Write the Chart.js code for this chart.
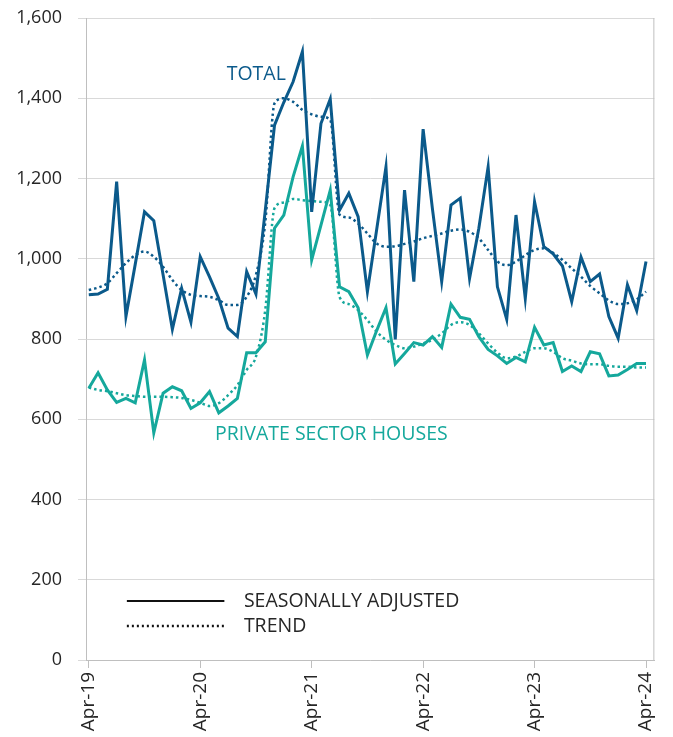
<!DOCTYPE html>
<html>
<head>
<meta charset="utf-8">
<script src="https://cdn.jsdelivr.net/npm/chart.js@4"></script>
<style>
  html, body { margin: 0; padding: 0; background: #fff; }
  #wrap { width: 673px; height: 737px; }
</style>
</head>
<body>
<div id="wrap"><canvas id="chart" width="673" height="737"></canvas></div>
<script>
/* Categories: monthly, Apr-19 .. Apr-24 */
const monthNames = ["Jan", "Feb", "Mar", "Apr", "May", "Jun", "Jul", "Aug", "Sep", "Oct", "Nov", "Dec"];
const months = [];
for (let y = 2019; y <= 2024; y++) {
  for (let m = 0; m < 12; m++) {
    if ((y === 2019 && m < 3) || (y === 2024 && m > 3)) continue;
    months.push(`${monthNames[m]}-${String(y).slice(2)}`);
  }
}

const yTicks = [0, 200, 400, 600, 800, 1000, 1200, 1400, 1600];
const xTickIndexes = [0, 12, 24, 36, 48, 60];

/* Series */
const totalSA = [
  910, 912, 924, 1192, 856, 986, 1117, 1095, 960, 824, 926, 842, 1005,
  955, 901, 827, 806, 968, 912, 1120, 1333, 1390, 1441, 1516, 1117,
  1337, 1398, 1121, 1163, 1105, 918, 1073, 1229, 799, 1171, 943, 1323,
  1125, 943, 1134, 1151, 951, 1076, 1229, 930, 849, 1109, 901, 1142,
  1030, 1012, 982, 893, 1004, 943, 962, 856, 802, 935, 871, 993
];
const totalTrend = [
  922, 928, 939, 964, 989, 1009, 1018, 1005, 980, 947, 922, 910, 907,
  905, 897, 885, 885, 905, 960, 1090, 1387, 1400, 1391, 1371, 1360,
  1354, 1346, 1110, 1103, 1088, 1063, 1038, 1030, 1031, 1037, 1043, 1051,
  1057, 1063, 1070, 1073, 1067, 1051, 1022, 993, 984, 993, 1009, 1022,
  1026, 1015, 997, 976, 955, 932, 914, 896, 887, 889, 899, 918
];
const privateSA = [
  677, 716, 673, 642, 652, 641, 748, 566, 665, 681, 671, 627, 641,
  669, 616, 633, 652, 766, 766, 793, 1076, 1109, 1204, 1281, 997,
  1084, 1171, 930, 918, 878, 760, 821, 878, 738, 764, 791, 785,
  806, 779, 887, 854, 849, 806, 774, 758, 739, 754, 743, 829,
  785, 791, 719, 733, 719, 768, 763, 708, 710, 724, 739, 739
];
const privateTrend = [
  679, 673, 670, 665, 660, 658, 656, 656, 656, 655, 653, 648, 641,
  633, 640, 660, 685, 723, 756, 872, 1126, 1140, 1149, 1146, 1144,
  1142, 1134, 905, 887, 872, 847, 818, 798, 785, 777, 781, 789,
  798, 814, 835, 842, 835, 814, 789, 766, 752, 756, 768, 777,
  777, 768, 752, 746, 739, 737, 737, 733, 731, 731, 729, 729
];

const blue = "#0b5a8b";
const teal = "#15a89c";
const gridColor = "#d9d9d9";
const axisColor = "#bfbfbf";
const textColor = "#262626";
const fontFamily = "'Open Sans', sans-serif";

function toPoints(values) {
  return values.map((v, i) => ({ x: i, y: v }));
}

/* Annotations, legend and right border */
const extras = {
  id: "extras",
  beforeDatasetsDraw(chart) {
    const { ctx, chartArea } = chart;
    ctx.save();
    ctx.strokeStyle = axisColor;
    ctx.lineWidth = 1;
    ctx.beginPath();
    ctx.moveTo(chartArea.right - 0.5, chartArea.top);
    ctx.lineTo(chartArea.right - 0.5, chartArea.bottom);
    ctx.stroke();
    ctx.restore();
  },
  afterDraw(chart) {
    const { ctx } = chart;
    const { x, y } = chart.scales;
    ctx.save();
    ctx.font = `19.5px ${fontFamily}`;
    ctx.textBaseline = "middle";
    ctx.textAlign = "left";

    ctx.fillStyle = blue;
    ctx.fillText("TOTAL", x.getPixelForValue(14.85), y.getPixelForValue(1460));
    ctx.fillStyle = teal;
    ctx.fillText("PRIVATE SECTOR HOUSES", x.getPixelForValue(13.6), y.getPixelForValue(562));

    // legend
    const lx0 = x.getPixelForValue(4.1);
    const lx1 = x.getPixelForValue(14.6);
    const tx = x.getPixelForValue(16.7);
    const y1 = Math.round(y.getPixelForValue(147));
    const y2 = Math.round(y.getPixelForValue(85));
    ctx.strokeStyle = "#111";
    ctx.lineWidth = 2;
    ctx.beginPath();
    ctx.moveTo(lx0, y1);
    ctx.lineTo(lx1, y1);
    ctx.stroke();
    ctx.setLineDash([2, 3]);
    ctx.lineWidth = 2.5;
    ctx.beginPath();
    ctx.moveTo(lx0, y2);
    ctx.lineTo(lx1, y2);
    ctx.stroke();
    ctx.setLineDash([]);
    ctx.fillStyle = textColor;
    ctx.fillText("SEASONALLY ADJUSTED", tx, y1);
    ctx.fillText("TREND", tx, y2);
    ctx.restore();
  }
};

new Chart(document.querySelector("#chart"), {
  type: "line",
  data: {
    datasets: [
      {
        label: "Total (seasonally adjusted)",
        data: toPoints(totalSA),
        borderColor: blue,
        borderWidth: 3,
        pointRadius: 0,
        tension: 0
      },
      {
        label: "Private sector houses (seasonally adjusted)",
        data: toPoints(privateSA),
        borderColor: teal,
        borderWidth: 3,
        pointRadius: 0,
        tension: 0
      },
      {
        label: "Total (trend)",
        data: toPoints(totalTrend),
        borderColor: blue,
        borderWidth: 2.5,
        borderDash: [2.5, 3],
        pointRadius: 0,
        cubicInterpolationMode: "monotone"
      },
      {
        label: "Private sector houses (trend)",
        data: toPoints(privateTrend),
        borderColor: teal,
        borderWidth: 2.5,
        borderDash: [2.5, 3],
        pointRadius: 0,
        cubicInterpolationMode: "monotone"
      }
    ]
  },
  options: {
    responsive: false,
    animation: false,
    layout: {
      padding: { top: 18, right: 13, left: 0, bottom: 0 }
    },
    plugins: {
      legend: { display: false },
      tooltip: { enabled: false }
    },
    scales: {
      x: {
        type: "linear",
        min: -0.3,
        max: 60.9,
        afterBuildTicks: axis => {
          axis.ticks = xTickIndexes.map(v => ({ value: v }));
        },
        afterFit: axis => {
          axis.height = 77;
        },
        border: { color: axisColor },
        grid: {
          drawOnChartArea: false,
          color: axisColor,
          tickLength: 8
        },
        ticks: {
          autoSkip: false,
          minRotation: 90,
          maxRotation: 90,
          padding: 4,
          color: textColor,
          font: { family: fontFamily, size: 19 },
          callback: value => months[value]
        }
      },
      y: {
        min: 0,
        max: 1600,
        afterBuildTicks: axis => {
          axis.ticks = yTicks.map(v => ({ value: v }));
        },
        afterFit: axis => {
          axis.width = 86;
          axis.paddingTop = 0;
          axis.paddingBottom = 0;
        },
        border: { color: axisColor },
        grid: {
          color: gridColor,
          tickColor: gridColor,
          tickLength: 8
        },
        ticks: {
          padding: 16,
          color: textColor,
          font: { family: fontFamily, size: 18 },
          callback: value => value.toLocaleString("en-US")
        }
      }
    }
  },
  plugins: [extras]
});
</script>
</body>
</html>
